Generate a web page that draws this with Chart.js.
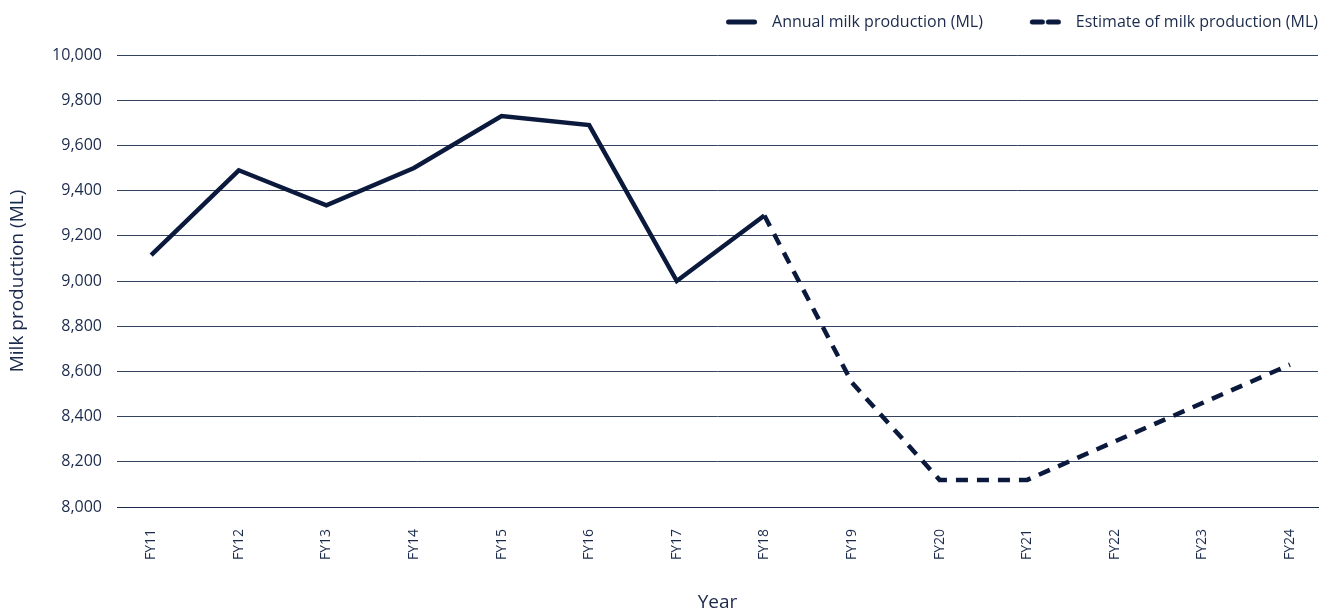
<!DOCTYPE html>
<html>
<head>
<meta charset="utf-8">
<script src="https://cdn.jsdelivr.net/npm/chart.js@4/dist/chart.umd.min.js"></script>
<style>
  html, body { margin: 0; padding: 0; background: #ffffff; }
  #wrap { width: 1333px; height: 615px; position: relative; }
</style>
</head>
<body>
<div id="wrap"><canvas id="c"></canvas></div>
<script>
// Financial years on the horizontal axis
const years = ['FY11','FY12','FY13','FY14','FY15','FY16','FY17','FY18','FY19','FY20','FY21','FY22','FY23','FY24'];
// Recorded annual milk production (ML)
const annual = [9115, 9490, 9335, 9500, 9730, 9690, 9000, 9290, null, null, null, null, null, null];
// Estimated milk production (ML), continuing from FY18
const estimate = [null, null, null, null, null, null, null, 9290, 8550, 8120, 8120, 8290, 8460, 8630];
// Value axis ticks
const yTicks = [8000, 8200, 8400, 8600, 8800, 9000, 9200, 9400, 9600, 9800, 10000];

const navy = '#0b1a3c';
const textNavy = '#1b2a4b';
const fontFamily = '"Open Sans", "Noto Sans", sans-serif';

// Year index -> point for a linear x axis
const toPoints = arr => arr.map((v, i) => ({ x: i, y: v }));

// Legend swatch: a short rounded stroke (solid or dashed) after a blank lead-in
function legendSwatch(dash) {
  const c = document.createElement('canvas');
  c.width = 85; c.height = 8;
  const g = c.getContext('2d');
  g.strokeStyle = navy;
  g.lineWidth = 5;
  g.lineCap = 'round';
  g.setLineDash(dash);
  g.beginPath();
  g.moveTo(49.5, 4);
  g.lineTo(75.5, 4);
  g.stroke();
  return c;
}
const swatches = [legendSwatch([]), legendSwatch([10, 6])];

// Fixed-height legend band above the plot
const legendBand = {
  id: 'legendBand',
  beforeInit(chart) {
    const lg = chart.legend;
    if (!lg) return;
    const fit = lg.fit.bind(lg);
    lg.fit = function () { fit(); this.height = 41; };
  }
};

new Chart(document.getElementById('c'), {
  type: 'line',
  data: {
    datasets: [
      {
        label: 'Annual milk production (ML)',
        data: toPoints(annual),
        borderColor: navy,
        backgroundColor: navy,
        borderWidth: 4.5,
        pointRadius: 0,
        tension: 0,
        spanGaps: false,
        borderJoinStyle: 'miter'
      },
      {
        label: 'Estimate of milk production (ML)',
        data: toPoints(estimate),
        borderColor: navy,
        backgroundColor: navy,
        borderWidth: 4.5,
        borderDash: [12, 9],
        pointRadius: 0,
        tension: 0,
        spanGaps: false
      }
    ]
  },
  plugins: [legendBand],
  options: {
    responsive: true,
    maintainAspectRatio: false,
    animation: false,
    layout: { padding: { top: 14, right: 15, bottom: 0, left: 0 } },
    plugins: {
      tooltip: { enabled: false },
      legend: {
        position: 'top',
        align: 'end',
        labels: {
          color: textNavy,
          font: { family: fontFamily, size: 16 },
          usePointStyle: true,
          pointStyleWidth: 85,
          padding: 0,
          generateLabels(chart) {
            return chart.data.datasets.map((ds, i) => ({
              text: ds.label,
              fillStyle: navy,
              strokeStyle: navy,
              lineWidth: 0,
              pointStyle: swatches[i],
              fontColor: textNavy,
              datasetIndex: i,
              hidden: false
            }));
          }
        }
      }
    },
    scales: {
      x: {
        type: 'linear',
        min: -0.39,
        max: 13.32,
        afterFit(scale) { scale.height = 108; },
        afterBuildTicks(scale) {
          scale.ticks = years.map((_, i) => ({ value: i }));
        },
        grid: { display: false, drawTicks: false },
        border: { display: true, color: '#1b2a4b', width: 1 },
        ticks: {
          autoSkip: false,
          color: textNavy,
          font: { family: fontFamily, size: 14 },
          minRotation: 90,
          maxRotation: 90,
          padding: 22,
          callback: v => years[v]
        },
        title: {
          display: true,
          text: 'Year',
          color: textNavy,
          font: { family: fontFamily, size: 19 },
          padding: { top: 0, bottom: 1 }
        }
      },
      y: {
        min: yTicks[0],
        max: yTicks[yTicks.length - 1],
        afterFit(scale) { scale.width = 117; },
        afterBuildTicks(scale) {
          scale.ticks = yTicks.map(v => ({ value: v }));
        },
        grid: {
          color: '#34425f',
          lineWidth: 1,
          drawTicks: false
        },
        border: { display: false },
        ticks: {
          color: textNavy,
          font: { family: fontFamily, size: 16 },
          padding: 15,
          callback: v => v.toLocaleString('en-US')
        },
        title: {
          display: true,
          text: 'Milk production (ML)',
          color: textNavy,
          font: { family: fontFamily, size: 19 },
          padding: { top: 6, bottom: 0 }
        }
      }
    }
  }
});
</script>
</body>
</html>
